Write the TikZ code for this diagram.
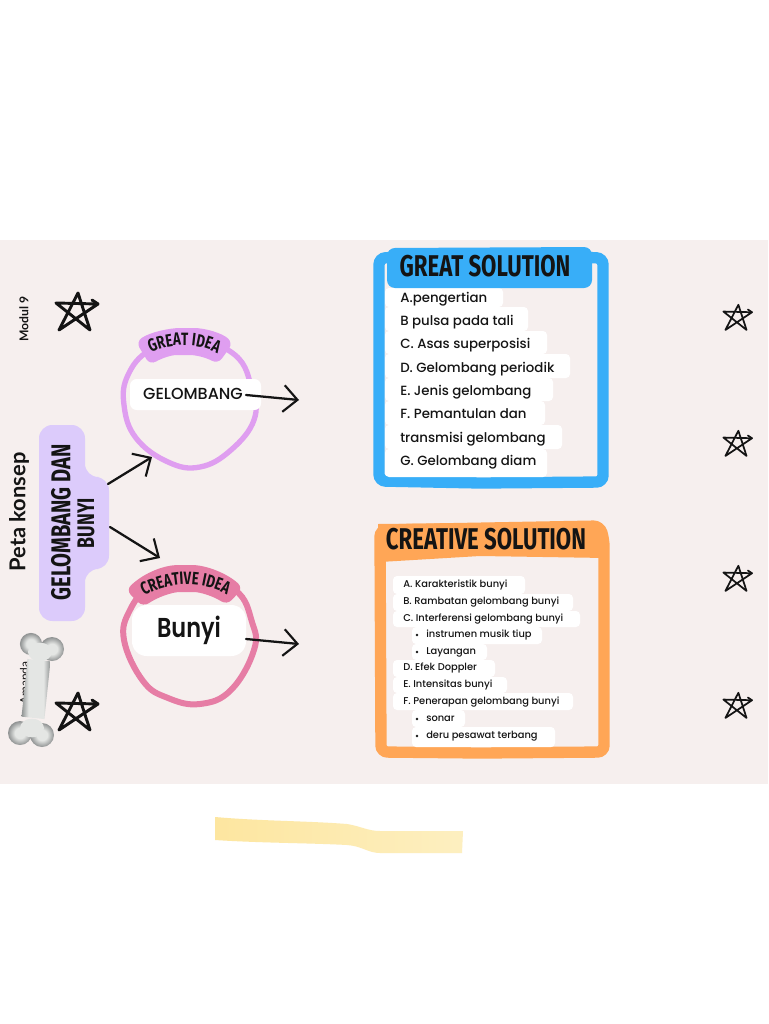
\documentclass[tikz,border=0pt]{standalone}
\usepackage{fontspec}
\usetikzlibrary{arrows.meta,decorations.text}
\setmainfont{Poppins}[BoldFont={Poppins Medium}]
\newfontfamily\strongfont{Poppins SemiBold}
\newfontfamily\headfont[FakeStretch=0.74]{Fira Sans}
\newfontfamily\labelfont{Lato}
\definecolor{pagebg}{HTML}{F6EFEE}
\definecolor{skyblue}{HTML}{38AEF8}
\definecolor{apricot}{HTML}{FFA656}
\definecolor{orchid}{HTML}{DF9EF0}
\definecolor{rosepink}{HTML}{E67DA5}
\definecolor{lilac}{HTML}{DCCBFB}
\definecolor{marker}{HTML}{FDE6A0}
\definecolor{markerpale}{HTML}{FDEFC0}
\definecolor{inkblack}{HTML}{141414}
\definecolor{bonelight}{HTML}{E4E6E4}
\definecolor{boneedge}{HTML}{8F9292}
\pgfdeclareradialshading{bonecapshade}{\pgfpoint{0bp}{0bp}}{color(0bp)=(bonelight); color(11bp)=(bonelight); color(25bp)=(boneedge); color(50bp)=(boneedge)}
\pgfdeclarehorizontalshading{boneshaftshade}{100bp}{color(0bp)=(boneedge); color(25bp)=(boneedge); color(37bp)=(bonelight); color(63bp)=(bonelight); color(75bp)=(boneedge); color(100bp)=(boneedge)}
\tikzset{
  x=0.75pt,y=-0.75pt,
  ink/.style={draw=inkblack,line width=1.7pt,line cap=round,line join=round},
  flow/.style={ink,-{Straight Barb[length=10.5pt,width=20pt,line width=1.6pt]}},
  strip/.style={fill=white,rounded corners=4pt},
  rowa/.style={anchor=west,inner sep=0pt,text height=8pt,text depth=2pt,font=\fontsize{10}{11}\selectfont\bfseries,text=inkblack},
  rowb/.style={anchor=west,inner sep=0pt,text height=6pt,text depth=1.6pt,font=\fontsize{7.4}{9}\selectfont\bfseries,text=inkblack},
  heading/.style={inner sep=0pt,text=inkblack,font=\headfont\bfseries\fontsize{22.5}{24}\selectfont},
  sidelabel/.style={rotate=90,inner sep=0pt,text=inkblack},
  pentagram/.pic={
    \draw[ink,line width=#1]
      (-17,19) -- (2,-18) -- (14,19) -- (-20,-8) -- (22,-7) -- cycle;
    \draw[ink,line width=#1] (16,-11) -- (22,-7);
  },
  bonecap/.style={shading=bonecapshade,draw=none},
}
\begin{document}
\begin{tikzpicture}
\useasboundingbox (0,0) rectangle (768,1024);
\fill[white] (0,0) rectangle (768,1024);
\fill[pagebg] (0,240) rectangle (768,784);

% Highlighter stroke under the sheet
\shade[left color=marker,right color=markerpale] (215,817) .. controls (260,821) and (310,821) .. (347,824)
  .. controls (360,826) and (368,831) .. (380,831) -- (463,831)
  -- (462,853) -- (380,853) .. controls (368,853) and (362,846) .. (347,845)
  .. controls (310,843) and (260,843) .. (215,840) -- cycle;

% Side labels
\node[sidelabel,font=\labelfont\bfseries\fontsize{9.1}{10}\selectfont] (modul) at (24,319) {Modul 9};
\node[sidelabel,font=\labelfont\fontsize{9}{10}\selectfont] (author) at (24.5,683) {Amanda};
\node[sidelabel,font=\labelfont\bfseries\fontsize{16.4}{18}\selectfont] (title) at (19,512) {Peta konsep};

% Topic block
\fill[lilac,rounded corners=10pt] (39,425) -- (85,425) -- (85,477) -- (109,477) -- (109,569)
  -- (85,569) -- (85,621) -- (39,621) -- cycle;
\node[heading,rotate=90,font=\headfont\bfseries\fontsize{20.4}{22}\selectfont] (topicA) at (61,522.5) {GELOMBANG DAN};
\node[heading,rotate=90,font=\headfont\bfseries\fontsize{18}{19}\selectfont] (topicB) at (86,523) {BUNYI};

% Idea rings
\draw[orchid,line width=4pt] plot[smooth cycle,tension=0.7] coordinates
  {(189,338) (235,355) (252,390) (254,420) (231,450) (200,467) (168,462) (136,438) (124,405) (128,375) (150,350)};
\draw[rosepink,line width=4.5pt] plot[smooth cycle,tension=0.7] coordinates
  {(189,575) (235,590) (252,622) (254,650) (231,690) (200,704) (168,698) (143,681) (124,640) (130,610) (150,588)};

% Banners over the rings
\fill[orchid,rounded corners=5pt] (136,342) .. controls (150,332) and (170,328) .. (187,328)
  .. controls (205,328) and (222,333) .. (233,343) -- (218,364)
  .. controls (205,357) and (195,355) .. (183,355) .. controls (172,355) and (162,358) .. (150,365) -- cycle;
\fill[rosepink,rounded corners=5pt] (126,590) .. controls (145,572) and (165,565) .. (185,565)
  .. controls (207,565) and (228,574) .. (243,588) -- (227,605)
  .. controls (213,596) and (200,592) .. (187,592) .. controls (172,592) and (158,597) .. (143,607) -- cycle;
\path[decorate,decoration={text along path,text align=center,
    text={|\headfont\bfseries\fontsize{13.4}{15}\selectfont\color{inkblack}|GREAT IDEA}}]
  (143,357) .. controls (160,347) and (172,345.5) .. (184,345.5) .. controls (197,345.5) and (210,348) .. (225,358);
\path[decorate,decoration={text along path,text align=center,
    text={|\headfont\bfseries\fontsize{13.4}{15}\selectfont\color{inkblack}|CREATIVE IDEA}}]
  (134,602) .. controls (150,590) and (170,584.5) .. (187,584.5) .. controls (204,584.5) and (222,590) .. (237,601);

% Idea labels
\fill[strip,rounded corners=5pt] (130,379) rectangle (261,410);
\node[inner sep=0pt,text=inkblack,font=\fontsize{12}{14}\selectfont\bfseries] (wave) at (193,394) {GELOMBANG};
\fill[strip,rounded corners=11pt] (132,605) rectangle (246,656);
\node[inner sep=0pt,text=inkblack,font=\strongfont\fontsize{20.5}{22}\selectfont] (sound) at (189,630) {\scalebox{0.82}[1]{Bunyi}};

% Connectors
\coordinate (topicUp) at (108,484);
\coordinate (topicDown) at (110,527);
\coordinate (ringUp) at (152,457);
\coordinate (ringDown) at (160,558);
\coordinate (waveOut) at (246,395);
\coordinate (waveEnd) at (299,400);
\coordinate (soundOut) at (246,639);
\coordinate (soundEnd) at (299,644);
\draw[flow] (topicUp) -- (ringUp);
\draw[flow] (topicDown) -- (ringDown);
\draw[flow] (waveOut) -- (waveEnd);
\draw[flow] (soundOut) -- (soundEnd);

% First solution card
\draw[skyblue,line width=8.5pt,rounded corners=5pt] (379,258) -- (480,254) -- (603,258) -- (603,400) -- (603,482) -- (480,483) -- (379,481) -- cycle;
\foreach \ya/\yb/\r in {288/307/503,307/331/528,331/354/547,354/378/570,378/401/553,401/425/545,425/449/562,449/477/547}
  \fill[strip,rounded corners=3pt] (385,\ya) rectangle (\r,\yb);
\fill[skyblue,rounded corners=6pt] (387,248) -- (592,247) -- (592,288) -- (387,288) -- cycle;
\node[heading] (greatHead) at (485,266) {GREAT SOLUTION};
\foreach \n/\y/\t in {a/298/A.pengertian,b/321/B pulsa pada tali,c/344/C. Asas superposisi,d/368/D. Gelombang periodik,e/391/E. Jenis gelombang,f/414/F. Pemantulan dan,g/438/transmisi gelombang,h/461/G. Gelombang diam}
  \node[rowa] (great\n) at (400,\y) {\t};

% Second solution card
\draw[apricot,line width=8.5pt,rounded corners=5pt] (380,530) -- (600,526) -- (604,540) -- (604,752) -- (480,753) -- (381,752) -- cycle;
\fill[apricot] (378,524) -- (600,522) -- (606,558) -- (480,556) -- (380,562) -- cycle;
\foreach \xa/\ya/\yb/\r in {393/576/594/525,393/594/611/573,393/611/627/580,412/627/644/542,412/644/660/487,393/660/677/495,393/677/693/507,393/693/710/573,412/710/727/465,412/727/747/555}
  \fill[strip,rounded corners=3pt] (\xa,\ya) rectangle (\r,\yb);
\node[heading] (creativeHead) at (486,539) {CREATIVE SOLUTION};
\foreach \n/\y/\t in {a/585/A. Karakteristik bunyi,b/602/B. Rambatan gelombang bunyi,c/619/C. Interferensi gelombang bunyi,d/668/D. Efek Doppler,e/685/E. Intensitas bunyi,f/702/F. Penerapan gelombang bunyi}
  \node[rowb] (creative\n) at (403,\y) {\t};
\foreach \n/\y/\t in {g/635/instrumen musik tiup,h/652/Layangan,i/719/sonar,j/736/deru pesawat terbang}{
  \fill[inkblack] (417,\y) circle (1.1pt);
  \node[rowb] (creative\n) at (426,\y) {\t};
}

% Bone laid over the author label
\shade[bonecap] (31,644) circle (8.3pt);
\shade[bonecap] (52,649) circle (9pt);
\shade[bonecap] (20,733) circle (9pt);
\shade[bonecap] (42,735) circle (9pt);
\shade[shading=boneshaftshade,rotate around={-6:(36,689)}] (24.5,660) rectangle (47.5,718);
\fill[bonelight] (40,652) ellipse (9pt and 7pt);
\fill[bonelight] (32,728) ellipse (9pt and 7pt);

% Decorative stars
\path (76,311) pic {pentagram=2.2pt};
\path (76,711) pic {pentagram=2.2pt};
\foreach \y in {317,443,578,705}
  \path (737,\y) pic[scale=0.68] {pentagram=1.3pt};
\end{tikzpicture}
\end{document}
